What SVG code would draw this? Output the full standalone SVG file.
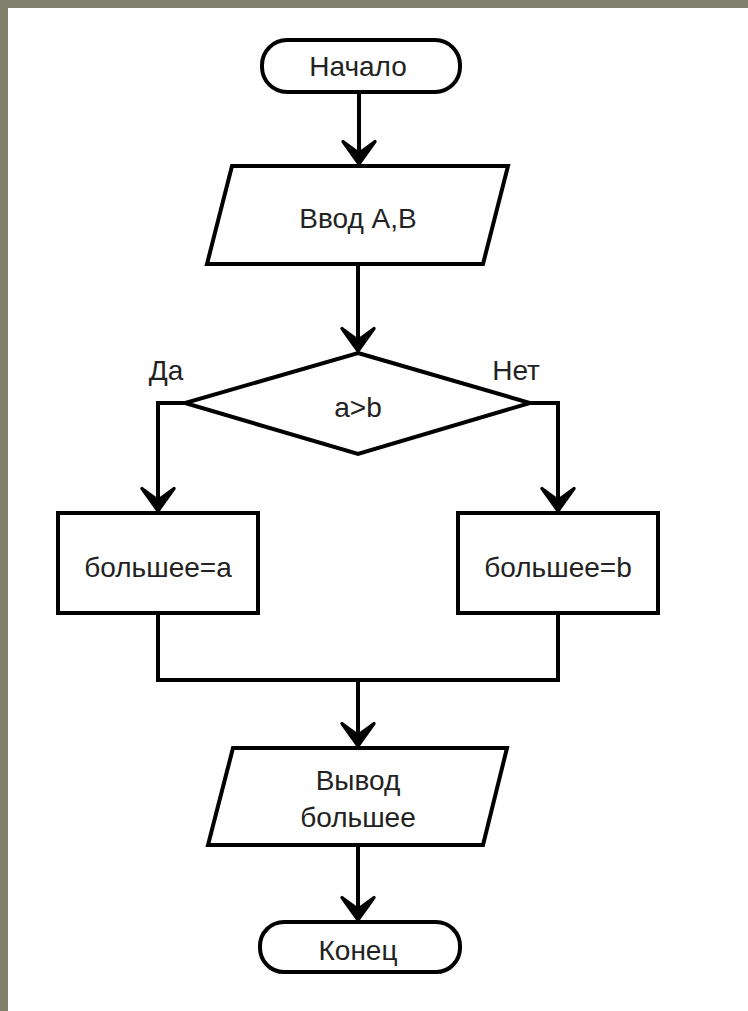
<svg xmlns="http://www.w3.org/2000/svg" width="748" height="1011" viewBox="0 0 748 1011">
  <style>
    .shape { fill: #ffffff; stroke: #000000; stroke-width: 4; stroke-linejoin: miter; }
    .wire { fill: none; stroke: #000000; stroke-width: 4; stroke-linejoin: miter; }
    .label { font-family: "Liberation Sans", Arial, sans-serif; font-size: 28px; fill: #222222; text-anchor: middle; }
  </style>
  <defs>
    <marker id="arrow" markerUnits="userSpaceOnUse" markerWidth="40" markerHeight="30" viewBox="-18 -24 36 28" refX="0" refY="0" orient="0" overflow="visible">
      <path d="M0,0 L-15,-21 L0,-10 L15,-21 Z" fill="#000000" stroke="#000000" stroke-width="3" stroke-linejoin="round"/>
    </marker>
  </defs>

  <!-- page frame -->
  <rect x="0" y="0" width="748" height="1011" fill="#80816f"/>
  <rect x="8" y="8" width="740" height="1003" fill="#ffffff"/>

  <!-- connectors -->
  <g id="connectors">
    <path class="wire" d="M359,92 L359,164" marker-end="url(#arrow)"/>
    <path class="wire" d="M358,264 L358,351" marker-end="url(#arrow)"/>
    <path class="wire" d="M185,403 L158,403 L158,511" marker-end="url(#arrow)"/>
    <path class="wire" d="M530,403 L558,403 L558,511" marker-end="url(#arrow)"/>
    <path class="wire" d="M158,613 L158,680 L558,680 L558,613"/>
    <path class="wire" d="M358,680 L358,746" marker-end="url(#arrow)"/>
    <path class="wire" d="M358,845 L358,920" marker-end="url(#arrow)"/>
  </g>

  <g id="start">
    <rect class="shape" x="262" y="40" width="198" height="52" rx="25" ry="25"/>
    <text class="label" x="358" y="76">Начало</text>
  </g>

  <g id="input">
    <polygon class="shape" points="232,166 508,166 483,264 207,264"/>
    <text class="label" x="358" y="228">Ввод А,В</text>
  </g>

  <g id="decision">
    <polygon class="shape" points="358,353 530,403 358,454 185,403"/>
    <text class="label" x="358" y="417">a&gt;b</text>
  </g>

  <g id="label-yes">
    <text class="label" x="166" y="380">Да</text>
  </g>

  <g id="label-no">
    <text class="label" x="516" y="380">Нет</text>
  </g>

  <g id="assign-a">
    <rect class="shape" x="58" y="513" width="200" height="100"/>
    <text class="label" x="158" y="577">большее=a</text>
  </g>

  <g id="assign-b">
    <rect class="shape" x="458" y="513" width="200" height="100"/>
    <text class="label" x="558" y="577">большее=b</text>
  </g>

  <g id="output">
    <polygon class="shape" points="233,748 507,748 483,845 208,845"/>
    <text class="label" x="358" y="790">Вывод</text>
    <text class="label" x="358" y="827">большее</text>
  </g>

  <g id="end">
    <rect class="shape" x="260" y="922" width="200" height="50" rx="24" ry="24"/>
    <text class="label" x="358" y="960">Конец</text>
  </g>
</svg>
